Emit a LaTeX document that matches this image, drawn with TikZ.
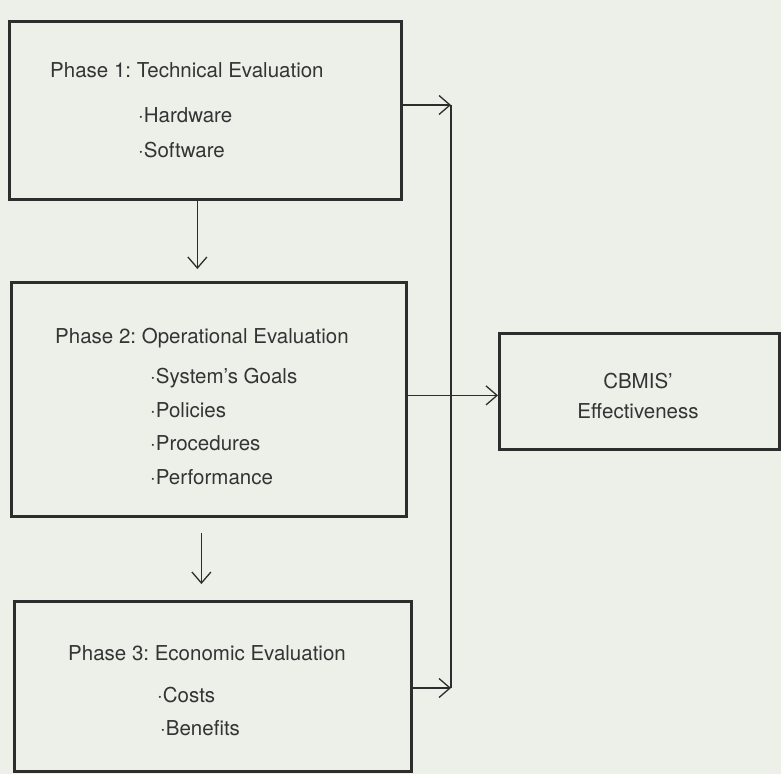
\documentclass[tikz,border=0pt]{standalone}
\usepackage{fontspec}
\setmainfont{TeX Gyre Heros}
\usetikzlibrary{calc, positioning}
\usetikzlibrary{arrows.meta}
\definecolor{paper}{RGB}{236,240,232}
\definecolor{ink}{RGB}{45,45,45}
\definecolor{print}{RGB}{52,52,52}
\frenchspacing

\begin{document}
\begin{tikzpicture}[x=1pt,y=-1pt,
  phasebox/.style={draw=ink, line width=2.8pt, inner sep=0pt, anchor=north west},
  txt/.style={anchor=base west, inner sep=0pt, text=print, font=\fontsize{20.5}{24}\selectfont},
  link/.style={draw=ink, line width=1.3pt},
  arr/.style={link, -{Straight Barb[length=11pt,width=19pt]}}]

\fill[paper] (0,0) rectangle (781,774);
\useasboundingbox (0,0) rectangle (781,774);

% the three phases and the result
\node[phasebox, minimum width=392pt, minimum height=178pt] (p1) at (8,20) {};
\node[phasebox, minimum width=395pt, minimum height=234pt] (p2) at (10,281) {};
\node[phasebox, minimum width=397pt, minimum height=170pt] (p3) at (13,600) {};
\node[phasebox, minimum width=280pt, minimum height=116pt] (cb) at (498,332) {};

\node[txt] (t1) at (50,77) {Phase 1: Technical Evaluation};
\node[txt] (hw) at (138,122) {·Hardware};
\node[txt] (sw) at (138,157) {·Software};

\node[txt] (t2) at (55,343) {Phase 2: Operational Evaluation};
\node[txt] (gl) at (150,383) {·System's Goals};
\node[txt] (pl) at (150,417) {·Policies};
\node[txt] (pr) at (150,450) {·Procedures};
\node[txt] (pf) at (150,484) {·Performance};

\node[txt] (t3) at (68,660) {Phase 3: Economic Evaluation};
\node[txt] (co) at (157,702) {·Costs};
\node[txt] (be) at (160,735) {·Benefits};

\node[txt, anchor=base] (c1) at (638,388) {CBMIS'};
\node[txt, anchor=base] (c2) at (638,418) {Effectiveness};

% phase to phase
\draw[arr, shorten >=12pt] ([xshift=-8pt]p1.south) -- ([xshift=-8pt]p1.south |- p2.north);
\draw[arr, shorten <=15pt, shorten >=16pt] ([xshift=-7.5pt]p2.south) -- ([xshift=-7.5pt]p2.south |- p3.north);

% collecting line on the right
\coordinate (busT) at (451,105);
\coordinate (busB) at (451,688);
\draw[link] (busT) -- (busB);
\draw[arr] (p1.east |- busT) -- (busT);
\draw[arr] (p3.east |- busB) -- (busB);
\draw[arr] ([yshift=4pt]p2.east) -- ([yshift=4pt]p2.east -| cb.west);
\end{tikzpicture}
\end{document}
